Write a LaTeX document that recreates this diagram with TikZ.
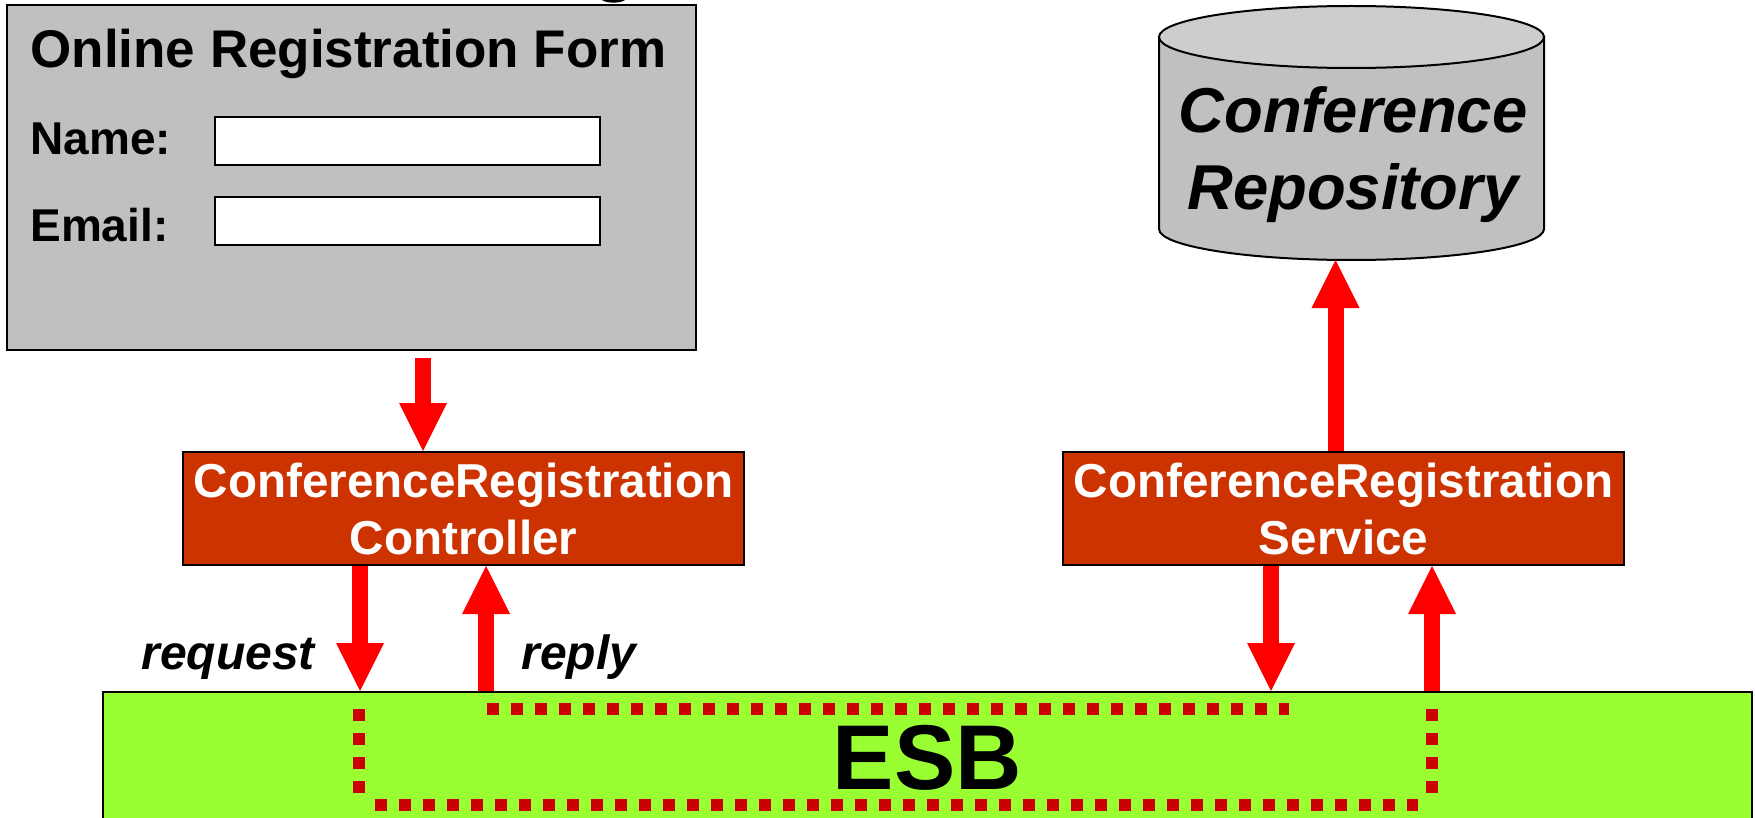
\documentclass[tikz,border=0pt]{standalone}
\usepackage{fontspec}
\setmainfont{Liberation Sans}
\usetikzlibrary{arrows.meta}
\definecolor{formgray}{HTML}{C0C0C0}
\definecolor{topgray}{HTML}{CDCDCD}
\definecolor{boxred}{HTML}{CC3300}
\definecolor{esbgreen}{HTML}{99FF33}
\definecolor{dotred}{HTML}{CC0000}
\definecolor{arrowred}{HTML}{FF0000}
\tikzset{
 formbox/.style={draw=black, line width=1.2pt, fill=formgray, inner sep=0pt},
 field/.style={draw=black, line width=1pt, fill=white, inner sep=0pt, minimum width=192.5pt, minimum height=24pt},
 compbox/.style={draw=black, line width=1pt, fill=boxred, text=white,
   font=\fontsize{23.8pt}{28.5pt}\selectfont\bfseries, align=center,
   minimum width=280.5pt, minimum height=56.5pt, inner sep=0pt},
 esbbox/.style={draw=black, line width=1pt, fill=esbgreen,
   font=\fontsize{46pt}{50pt}\selectfont\bfseries, inner sep=0pt,
   minimum width=824.5pt, minimum height=65.5pt},
 flow/.style={draw=arrowred, line width=8pt, -{Triangle[length=24pt,width=24pt,line width=0pt]}},
 route/.style={draw=dotred, line width=6pt, dash pattern=on 6pt off 6pt},
 msglabel/.style={font=\fontsize{24pt}{28pt}\selectfont\bfseries\itshape, inner sep=0pt, anchor=base west},
 formtext/.style={font=\fontsize{23pt}{27pt}\selectfont\bfseries, inner sep=0pt, anchor=base west},
 repotext/.style={font=\fontsize{31.7pt}{36pt}\selectfont\bfseries\itshape, inner sep=0pt, anchor=base},
}
\begin{document}
\begin{tikzpicture}[x=0.5pt,y=-0.5pt]
\useasboundingbox (0,0) rectangle (1755,818);
\clip (0,0) rectangle (1755,818);

% cut-off descender of a title above
\fill[black] (602,0) .. controls (606,3.5) and (621,3.5) .. (625,0) -- cycle;

% registration form
\node[formbox, minimum width=344.5pt, minimum height=172.5pt] (form) at (351.5,177.5) {};
\node[formtext, font=\fontsize{26.5pt}{30pt}\selectfont\bfseries] (title) at (30,68) {Online Registration Form};
\node[formtext] (namelbl) at (30,155) {Name:};
\node[formtext] (emaillbl) at (30,242) {Email:};
\node[field] (namefield) at (407.5,141) {};
\node[field] (emailfield) at (407.5,221) {};

% repository cylinder
\filldraw[fill=formgray, draw=black, line width=1pt]
  (1159,37) -- (1159,229)
  .. controls (1159,246.1) and (1245.2,260) .. (1351.5,260)
  .. controls (1457.8,260) and (1544,246.1) .. (1544,229)
  -- (1544,37) -- cycle;
\filldraw[fill=topgray, draw=black, line width=1pt]
  (1159,37) .. controls (1159,19.9) and (1245.2,6) .. (1351.5,6)
  .. controls (1457.8,6) and (1544,19.9) .. (1544,37)
  .. controls (1544,54.1) and (1457.8,68) .. (1351.5,68)
  .. controls (1245.2,68) and (1159,54.1) .. (1159,37) -- cycle;
\node[repotext] (repo1) at (1353,133) {Conference};
\node[repotext] (repo2) at (1353,210) {Repository};
\coordinate (repobot) at (1335.5,260);

% components
\node[compbox] (ctrl) at (463.5,508.5) {ConferenceRegistration\\Controller};
\node[compbox] (svc) at (1343.5,508.5) {ConferenceRegistration\\Service};

% ESB
\node[esbbox] (esb) at (927.5,757.5) {ESB};

% x positions of connectors
\coordinate (xin) at (423,0);
\coordinate (xreq) at (360,0);
\coordinate (xrep) at (486,0);
\coordinate (xsin) at (1271,0);
\coordinate (xsout) at (1432,0);

% arrows
\draw[flow, shorten <=3.5pt] (form.south -| xin) -- (ctrl.north -| xin);
\draw[flow] (svc.north -| repobot) -- (repobot);
\draw[flow] (ctrl.south -| xreq) -- (esb.north -| xreq);
\draw[flow] (esb.north -| xrep) -- (ctrl.south -| xrep);
\draw[flow] (svc.south -| xsin) -- (esb.north -| xsin);
\draw[flow] (esb.north -| xsout) -- (svc.south -| xsout);

\node[msglabel] (reqlbl) at (141,669) {request};
\node[msglabel] (replbl) at (521,669) {reply};

% routes inside the ESB
\coordinate (r1) at (359,709);
\coordinate (r2) at (359,793);
\coordinate (r3) at (375,804.5);
\coordinate (r4) at (1418,804.5);
\coordinate (r5) at (1432,709);
\coordinate (r6) at (1432,793);
\coordinate (r7) at (487,709);
\coordinate (r8) at (1289,709);
\draw[route] (r1) -- (r2);
\draw[route] (r3) -- (r4);
\draw[route] (r5) -- (r6);
\draw[route] (r7) -- (r8);
\end{tikzpicture}
\end{document}
